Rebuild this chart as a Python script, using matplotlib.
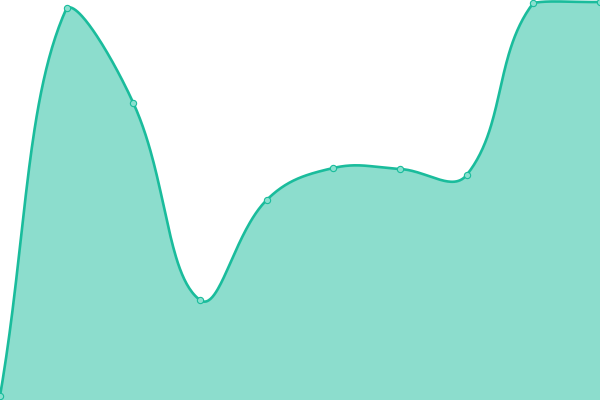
import numpy as np
import matplotlib
matplotlib.use("Agg")
import matplotlib.pyplot as plt

# values (y axis runs 0..400, no labels shown)
labels = ["A", "B", "C", "D", "E", "F", "G", "H", "I", "J"]
values = [4, 392, 297, 100, 200, 232, 231, 225, 397, 398]

line_color = "#1abc9c"
fill_color = (26 / 255, 188 / 255, 156 / 255, 0.5)
tension = 0.4

W, H = 600, 400
fig = plt.figure(figsize=(6, 4), dpi=100)
ax = fig.add_axes([0, 0, 1, 1])
ax.set_xlim(0, len(values) - 1)
ax.set_ylim(0, 400)
ax.axis("off")

# pixel coordinates of the points (for the spline control points)
sx = W / (len(values) - 1)
sy = H / 400
px = np.arange(len(values)) * sx
py = np.array(values, dtype=float) * sy


def control_points(i):
    prev = i - 1 if i > 0 else i
    nxt = i + 1 if i < len(px) - 1 else i
    d01 = np.hypot(px[i] - px[prev], py[i] - py[prev])
    d12 = np.hypot(px[nxt] - px[i], py[nxt] - py[i])
    tot = d01 + d12
    s01 = d01 / tot if tot else 0
    s12 = d12 / tot if tot else 0
    dx, dy = px[nxt] - px[prev], py[nxt] - py[prev]
    before = [px[i] - tension * s01 * dx, py[i] - tension * s01 * dy]
    after = [px[i] + tension * s12 * dx, py[i] + tension * s12 * dy]
    # keep control points inside the chart area
    for cp in (before, after):
        cp[0] = min(max(cp[0], 0), W)
        cp[1] = min(max(cp[1], 0), H)
    return before, after


cps = [control_points(i) for i in range(len(px))]
curve_x, curve_y = [], []
t = np.linspace(0, 1, 60)
for i in range(len(px) - 1):
    p0 = np.array([px[i], py[i]])
    p1 = np.array(cps[i][1])
    p2 = np.array(cps[i + 1][0])
    p3 = np.array([px[i + 1], py[i + 1]])
    b = ((1 - t) ** 3)[:, None] * p0 + (3 * (1 - t) ** 2 * t)[:, None] * p1 \
        + (3 * (1 - t) * t ** 2)[:, None] * p2 + (t ** 3)[:, None] * p3
    curve_x.extend(b[:, 0] / sx)
    curve_y.extend(b[:, 1] / sy)

ax.fill_between(curve_x, curve_y, 0, color=fill_color, linewidth=0)
ax.plot(curve_x, curve_y, color=line_color, linewidth=1.9, solid_capstyle="round")
ax.plot(range(len(values)), values, linestyle="none", marker="o", markersize=4.5,
        markerfacecolor="#8ae0cf", markeredgecolor=line_color, markeredgewidth=0.8)

fig.savefig("out.png", dpi=100)
